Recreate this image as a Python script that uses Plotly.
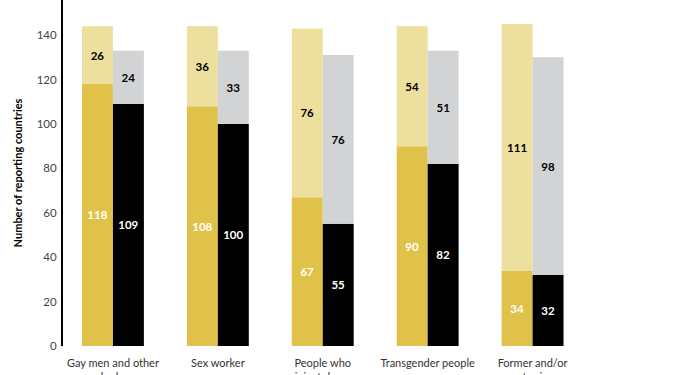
import plotly.graph_objects as go

categories = [
    "Gay men and other<br>men who have sex<br>with men",
    "Sex worker",
    "People who<br>inject drugs",
    "Transgender people",
    "Former and/or<br>current prisoners",
]
gold_base = [118, 108, 67, 90, 34]
gold_top = [26, 36, 76, 54, 111]
black_base = [109, 100, 55, 82, 32]
gray_top = [24, 33, 76, 51, 98]
y_ticks = [0, 20, 40, 60, 80, 100, 120, 140]

GOLD = "#E0C24A"
LIGHT_GOLD = "#EDDF9E"
BLACK = "#000000"
GRAY = "#D2D3D5"
FONT = "Lato"

fig = go.Figure()

def bar(y, base, color, txtcolor, group):
    fig.add_trace(go.Bar(
        x=categories, y=y, base=base, offsetgroup=group,
        marker=dict(color=color, line=dict(width=0)),
        text=[str(v) for v in y], textposition="inside",
        insidetextanchor="middle", textangle=0,
        textfont=dict(family=FONT, size=11.5, color=txtcolor, weight="bold"),
        showlegend=False, hoverinfo="skip",
    ))

bar(gold_base, None, GOLD, "white", "a")
bar(gold_top, gold_base, LIGHT_GOLD, "black", "a")
bar(black_base, None, BLACK, "white", "b")
bar(gray_top, black_base, GRAY, "black", "b")

fig.update_layout(
    width=675, height=375,
    margin=dict(l=63, r=48, t=0, b=29, autoexpand=False),
    barmode="group", bargap=0.41, bargroupgap=0,
    plot_bgcolor="white", paper_bgcolor="white",
    font=dict(family=FONT, color="#333333"),
)
fig.update_xaxes(
    type="category", range=[-0.476, 4.9], showgrid=False, showline=False,
    ticks="", tickfont=dict(family=FONT, size=11, color="#333333"),
    ticklabelstandoff=9, automargin=False,
)
fig.update_yaxes(
    range=[0, 155.8], tickvals=y_ticks, showgrid=False, zeroline=False,
    showline=True, linecolor="black", linewidth=2, ticks="",
    tickfont=dict(family=FONT, size=11.5, color="#444444"),
    ticklabelstandoff=2,
    title=dict(text="<b>Number of reporting countries</b>",
               font=dict(family=FONT, size=11, color="black"), standoff=12),
    automargin=False,
)

fig.write_html("out.html", config={"displayModeBar": False},
               post_script="document.body.style.margin='0';")
